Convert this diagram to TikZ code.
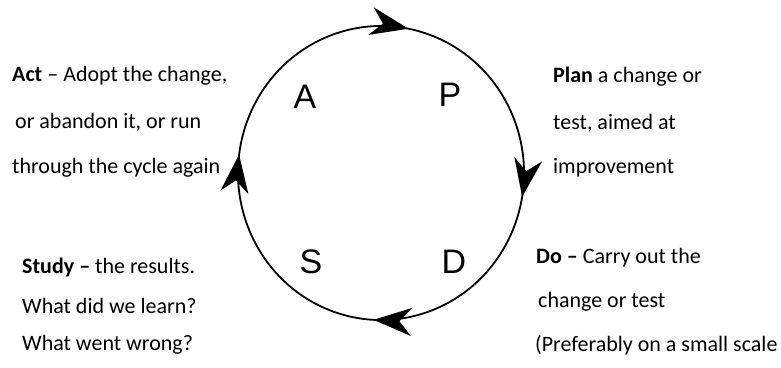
\documentclass[tikz,border=0pt]{standalone}
\usepackage{fontspec}
\setmainfont{Carlito}
\newfontfamily\letterfont{Liberation Sans}
\usetikzlibrary{arrows.meta,decorations.markings}
\begin{document}
\begin{tikzpicture}[x=1pt,y=-1pt,
  >={Stealth[length=38pt,width=28pt,inset=12pt]},
  txt/.style={anchor=west,inner sep=0pt,font=\fontsize{22}{26}\selectfont},
  big/.style={inner sep=0pt,font=\letterfont\fontsize{34}{36}\selectfont}]
\useasboundingbox (0,0) rectangle (781,367);
\fill[white] (0,0) rectangle (781,367);
\coordinate (c) at (381,173);
\draw[line width=1.8pt,postaction={decorate},
  decoration={markings,
    mark=at position 0.224 with {\arrow{>}},
    mark=at position 0.470 with {\arrow{>}},
    mark=at position 0.702 with {\arrow{>}},
    mark=at position 0.964 with {\arrow{>}}}]
  ([shift={(200:143 and 147)}]c) arc[start angle=200,end angle=560,x radius=143,y radius=147];
\node[big] (A) at (305,97) {A};
\node[big] (P) at (450,95) {P};
\node[big] (S) at (311,262) {S};
\node[big] (D) at (454,262) {D};
\node[txt] (a1) at (12,76) {\textbf{Act} – Adopt the change,};
\node[txt] (a2) at (15,122) {or abandon it, or run};
\node[txt] (a3) at (12,168) {through the cycle again};
\node[txt] (p1) at (553,77) {\textbf{Plan} a change or};
\node[txt] (p2) at (553,123) {test, aimed at};
\node[txt] (p3) at (553,168) {improvement};
\node[txt] (s1) at (22,268) {\textbf{Study –} the results.};
\node[txt] (s2) at (22,306) {What did we learn?};
\node[txt] (s3) at (22,345) {What went wrong?};
\node[txt] (d1) at (536,258) {\textbf{Do –} Carry out the};
\node[txt] (d2) at (538,302) {change or test};
\node[txt] (d3) at (535,345) {(Preferably on a small scale};
\end{tikzpicture}
\end{document}
